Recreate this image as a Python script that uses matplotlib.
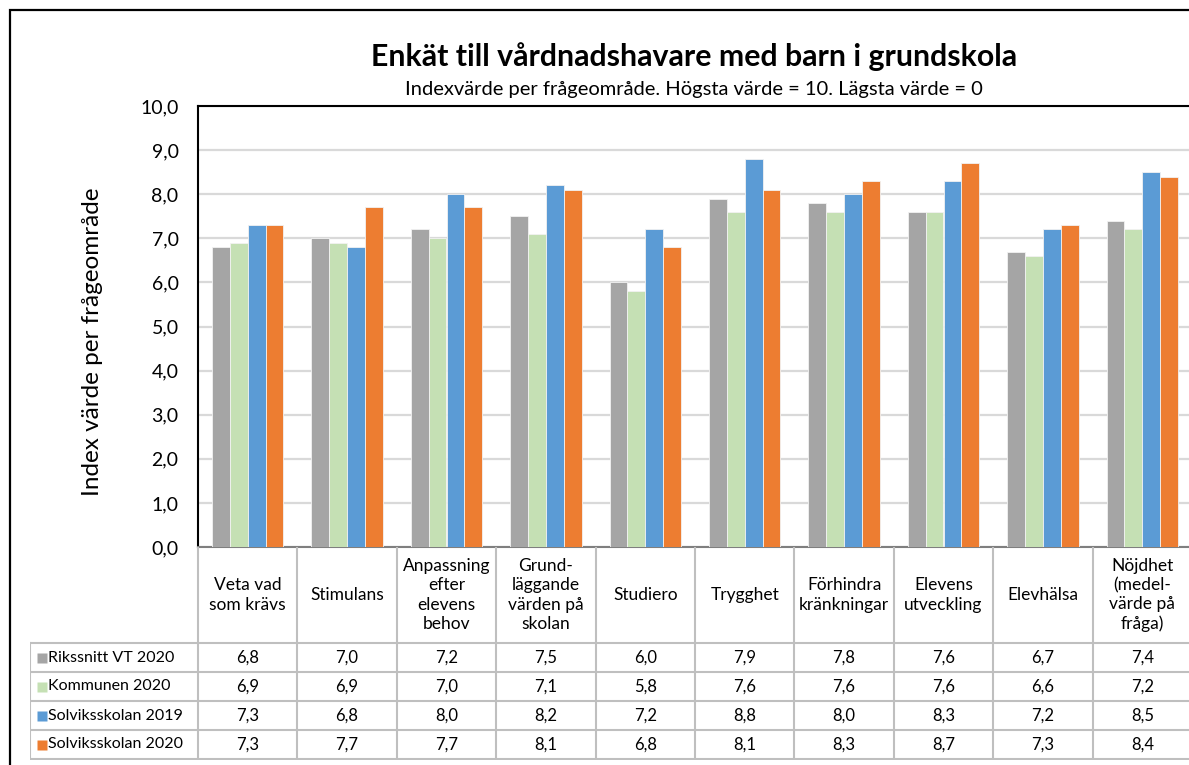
import numpy as np
import matplotlib.pyplot as plt
from matplotlib.patches import Rectangle

plt.rcParams['font.family'] = ['Lato', 'DejaVu Sans']

# Data
categories = ["Veta vad\nsom krävs", "Stimulans", "Anpassning\nefter\nelevens\nbehov",
              "Grund-\nläggande\nvärden på\nskolan", "Studiero", "Trygghet",
              "Förhindra\nkränkningar", "Elevens\nutveckling", "Elevhälsa",
              "Nöjdhet\n(medel-\nvärde på\nfråga)"]
series = ["Rikssnitt VT 2020", "Kommunen 2020", "Solviksskolan 2019", "Solviksskolan 2020"]
rikssnitt = [6.8, 7.0, 7.2, 7.5, 6.0, 7.9, 7.8, 7.6, 6.7, 7.4]
kommunen = [6.9, 6.9, 7.0, 7.1, 5.8, 7.6, 7.6, 7.6, 6.6, 7.2]
solvik_2019 = [7.3, 6.8, 8.0, 8.2, 7.2, 8.8, 8.0, 8.3, 7.2, 8.5]
solvik_2020 = [7.3, 7.7, 7.7, 8.1, 6.8, 8.1, 8.3, 8.7, 7.3, 8.4]
colors = ["#A5A5A5", "#C5E0B4", "#5B9BD5", "#ED7D31"]

values = [rikssnitt, kommunen, solvik_2019, solvik_2020]

W, H = 1189, 765
fig = plt.figure(figsize=(W / 100, H / 100), dpi=100)

def fx(px):
    return px / W

def fy(py):
    return 1 - py / H

# outer frame
fig.patches.append(Rectangle((fx(10), fy(800)), fx(1300), 790 / H, transform=fig.transFigure,
                             fill=False, edgecolor='black', lw=1.6))

# main bar axes
ax = fig.add_axes([fx(198), fy(547), fx(1192) - fx(198), (547 - 106) / H])
x = np.arange(len(categories))
bw = 0.18
for j, (vals, c) in enumerate(zip(values, colors)):
    ax.bar(x + (j - 1.5) * bw, vals, width=bw, color=c, edgecolor='#F2F2F2', lw=0.6, zorder=3)

ax.set_xlim(-0.5, 9.5)
ax.set_ylim(0, 10)
ax.set_yticks(np.arange(0, 11, 1))
ax.set_yticklabels([f"{v:.1f}".replace('.', ',') for v in np.arange(0, 11, 1)], fontsize=14)
ax.tick_params(axis='y', length=0, pad=14)
ax.set_xticks([])
ax.grid(axis='y', color='#D9D9D9', lw=1.6, zorder=0)
for s in ['left', 'top']:
    ax.spines[s].set_color('black')
    ax.spines[s].set_linewidth(1.5)
ax.spines['right'].set_visible(False)
ax.spines['bottom'].set_color('#7F7F7F')
ax.spines['bottom'].set_linewidth(1.5)

fig.text(fx(93), fy(342), "Index värde per frågeområde", rotation=90, ha='center', va='center', fontsize=17.5)
fig.text(fx(694), fy(57), "Enkät till vårdnadshavare med barn i grundskola", ha='center', va='center',
         fontsize=21.8, fontweight='bold')
fig.text(fx(694), fy(90), "Indexvärde per frågeområde. Högsta värde = 10. Lägsta värde = 0", ha='center',
         va='center', fontsize=14.5)

# data table
legw = 168 / 99.4
tab = fig.add_axes([fx(30), fy(760), fx(1192) - fx(30), (760 - 547) / H])
tab.set_xlim(-0.5 - legw, 9.5)
tab.set_ylim(760, 547)
tab.axis('off')
row_y = [643, 672, 701, 730, 759]
lc = '#BFBFBF'
for i in range(len(categories) + 1):
    tab.plot([i - 0.5, i - 0.5], [547, 759], color=lc, lw=1.5)
tab.plot([-0.5 - legw, -0.5 - legw], [643, 759], color=lc, lw=1.5)
for y in row_y:
    tab.plot([-0.5 - legw, 9.5], [y, y], color=lc, lw=1.5)
for i, cat in enumerate(categories):
    tab.text(i, 595, cat, ha='center', va='center', fontsize=12.5, linespacing=1.25)
for r, (name, vals, c) in enumerate(zip(series, values, colors)):
    yc = (row_y[r] + row_y[r + 1]) / 2
    tab.plot(-0.5 - legw + 0.12, yc, marker='s', ms=7, color=c, mec='none')
    tab.text(-0.5 - legw + 0.18, yc, name, ha='left', va='center', fontsize=11.5)
    for i, v in enumerate(vals):
        tab.text(i, yc, f"{v:.1f}".replace('.', ','), ha='center', va='center', fontsize=12)

fig.savefig("out.png", dpi=100)
